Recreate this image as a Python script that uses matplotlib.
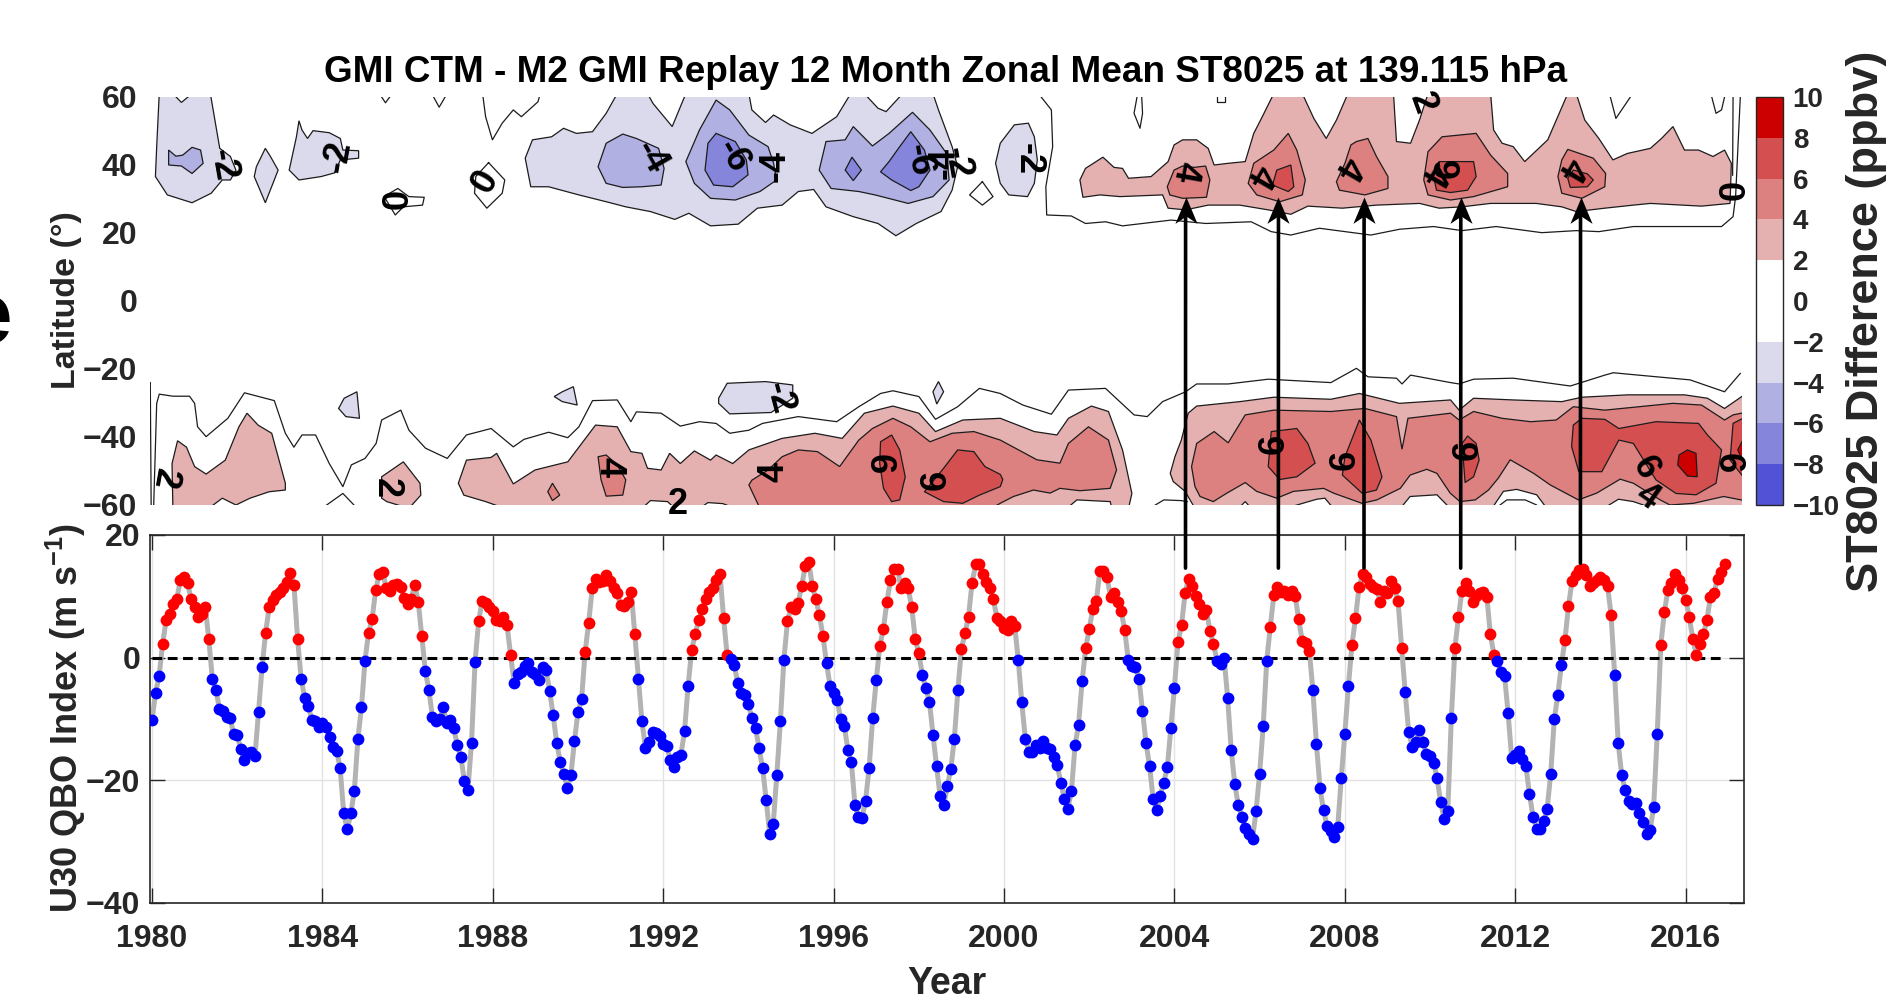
import numpy as np
import matplotlib
matplotlib.use('Agg')
import matplotlib.pyplot as plt
from matplotlib.colors import ListedColormap, BoundaryNorm
from matplotlib.colorbar import ColorbarBase
from matplotlib.patches import ConnectionPatch
from matplotlib.path import Path

plt.rcParams['font.family'] = ['Liberation Sans']
plt.rcParams['font.weight'] = 'bold'
plt.rcParams['mathtext.fontset'] = 'custom'
plt.rcParams['mathtext.bf'] = 'Liberation Sans:bold'
plt.rcParams['mathtext.rm'] = 'Liberation Sans:bold'
plt.rcParams['mathtext.default'] = 'bf'

# monthly U30 QBO index, Jan 1980 - Dec 2016, one row per year
qbo_values = [
    -10.2, -5.7, -3.0, 2.3, 6.2, 7.2, 8.8, 9.6, 12.7, 13.2, 12.2, 9.6,
    8.2, 6.7, 7.2, 8.2, 3.0, -3.5, -5.3, -8.3, -8.7, -9.6, -9.8, -12.5,
    -12.6, -14.9, -16.7, -15.6, -15.3, -16.1, -8.9, -1.6, 4.1, 8.2, 9.4, 10.2,
    10.7, 11.3, 12.4, 13.8, 11.8, 3.1, -3.4, -6.5, -7.8, -10.1, -10.4, -11.3,
    -10.7, -11.3, -13.0, -14.6, -15.2, -18.0, -25.4, -28.0, -25.4, -21.7, -13.2, -8.1,
    -0.5, 4.1, 6.3, 11.0, 13.6, 13.9, 11.3, 10.9, 11.8, 12.0, 11.5, 9.8,
    8.7, 9.6, 11.9, 9.1, 3.5, -2.2, -5.3, -9.7, -10.3, -10.0, -8.0, -10.6,
    -10.1, -11.5, -14.3, -16.2, -20.1, -21.5, -13.9, -0.7, 5.9, 9.3, 8.9, 8.2,
    7.6, 6.1, 5.9, 6.7, 5.3, 0.5, -4.1, -2.7, -2.3, -1.3, -0.8, -2.3,
    -2.7, -3.6, -1.5, -2.0, -5.4, -9.4, -13.9, -17.0, -19.0, -21.3, -19.1, -13.6,
    -8.8, -6.8, 0.9, 5.7, 11.3, 12.9, 12.4, 12.5, 13.4, 12.5, 11.3, 10.5,
    8.6, 8.4, 9.1, 10.7, 3.8, -3.4, -10.4, -14.7, -13.7, -12.1, -12.3, -12.7,
    -14.0, -14.4, -16.7, -17.9, -16.2, -15.8, -12.0, -4.7, 1.2, 3.8, 6.2, 8.0,
    9.5, 10.7, 11.3, 12.6, 13.7, 6.5, 0.4, -0.2, -1.2, -4.1, -5.8, -6.1,
    -7.6, -9.9, -11.4, -14.8, -18.0, -23.2, -28.7, -27.1, -19.1, -10.4, -0.3, 5.9,
    8.2, 7.9, 8.9, 11.7, 14.9, 15.6, 11.7, 9.5, 6.9, 3.5, -0.9, -4.6,
    -5.7, -6.9, -10.0, -11.1, -15.0, -17.0, -24.0, -26.0, -26.1, -23.3, -18.0, -9.9,
    -3.7, 1.9, 4.6, 9.1, 12.6, 14.5, 14.5, 11.3, 12.2, 11.3, 8.2, 3.0,
    0.7, -2.8, -5.0, -7.2, -12.6, -17.7, -22.6, -24.1, -21.0, -18.2, -13.3, -5.3,
    1.4, 4.0, 6.7, 12.2, 15.2, 15.2, 13.6, 12.4, 11.3, 9.5, 6.5, 5.9,
    4.8, 4.5, 5.9, 5.2, -0.3, -7.3, -13.2, -15.3, -15.4, -14.2, -14.7, -13.6,
    -14.7, -14.9, -16.2, -17.5, -20.4, -23.0, -24.6, -21.7, -14.3, -10.9, -3.8, 1.5,
    4.7, 7.9, 9.3, 14.1, 14.1, 13.2, 9.9, 10.6, 9.0, 7.6, 4.5, -0.4,
    -1.4, -1.5, -3.4, -8.7, -13.9, -17.7, -23.0, -24.8, -22.5, -20.4, -17.9, -11.4,
    -4.9, 2.6, 5.3, 10.5, 12.9, 11.7, 10.1, 8.8, 7.1, 7.8, 4.4, 2.2,
    -0.5, -1.0, -0.1, -6.6, -15.1, -20.6, -24.1, -25.9, -27.8, -28.8, -29.5, -25.0,
    -18.9, -11.2, -0.5, 5.0, 10.2, 11.5, 10.7, 10.9, 10.2, 10.9, 10.1, 6.3,
    2.7, 2.4, 1.1, -5.3, -14.1, -21.2, -24.9, -27.5, -28.2, -29.3, -27.6, -19.6,
    -12.4, -4.7, 2.1, 6.4, 11.5, 13.6, 13.2, 12.0, 11.5, 11.2, 9.1, 10.9,
    10.6, 12.5, 11.3, 9.2, 1.6, -5.6, -12.2, -14.5, -13.7, -11.8, -13.8, -15.7,
    -16.0, -17.1, -19.7, -23.6, -26.3, -25.0, -9.9, 1.5, 6.6, 10.9, 12.2, 10.9,
    9.1, 10.0, 10.6, 10.7, 9.9, 3.8, 0.5, -0.5, -2.3, -3.0, -9.1, -16.4,
    -15.8, -15.2, -16.6, -17.7, -22.2, -25.9, -27.9, -28.0, -26.6, -24.6, -18.9, -10.0,
    -6.1, -1.2, 2.9, 8.4, 12.5, 13.4, 14.3, 14.5, 13.4, 11.7, 12.1, 12.6,
    13.2, 12.6, 11.7, 7.0, -2.8, -13.9, -19.2, -21.6, -23.4, -23.8, -23.7, -25.3,
    -26.8, -28.7, -28.1, -24.3, -12.4, 2.1, 7.4, 11.0, 12.1, 13.6, 12.6, 11.3,
    9.4, 6.7, 3.1, 0.5, 2.2, 3.8, 6.2, 9.9, 10.6, 12.9, 14.0, 15.2,
]

levels = [-10, -8, -6, -4, -2, 0, 2, 4, 6, 8, 10]
band_colors = ['#5252d6', '#8585dc', '#b0b0e2', '#dadaec', '#ffffff',
               '#ffffff', '#e5b0b0', '#dd8080', '#d45050', '#cc0000']

# contours as (year, latitude); 61/-61 = runs off the panel
n_neg2_1980 = [(1980.17, 61), (1980.11, 45.4), (1980.08, 36.6), (1980.36, 31.2), (1980.94, 28.9), (1981.39, 31.7),
               (1981.65, 35.6), (1981.84, 35.6), (1981.97, 38.5), (1981.84, 42.5), (1981.59, 44.9), (1981.37, 61)]
n_neg4_1980 = [(1980.39, 44.4), (1980.39, 40), (1980.69, 39.7), (1980.94, 37.5), (1981.2, 40.5), (1981.14, 44.4),
               (1980.94, 45.2), (1980.72, 42.9), (1980.56, 42.6)]
n_notch_1980 = [(1980.49, 61), (1980.69, 58.4), (1980.94, 61)]
n_neg2_1982 = [(1982.66, 44.9), (1982.45, 39.5), (1982.4, 36.6), (1982.66, 28.9), (1982.87, 35.6), (1982.96, 38.5), (1982.78, 42.5)]
n_neg2_1984 = [(1983.45, 53), (1983.52, 50.3), (1983.65, 47.8), (1983.78, 50.1), (1984.16, 49.5), (1984.42, 47.8),
               (1984.48, 44.4), (1984.85, 44.2), (1984.85, 42), (1984.42, 41.5), (1984.29, 37.7), (1983.97, 36.6),
               (1983.45, 35.6), (1983.22, 38.5), (1983.39, 48.3)]
n_neg2_main = [(1990.92, 61), (1990.66, 55.2), (1990.34, 49.8), (1989.96, 49.3), (1989.66, 50.8), (1989.38, 48.3),
               (1988.93, 47.4), (1988.76, 42), (1988.89, 33.6), (1989.31, 33.6), (1990.02, 31.2), (1990.66, 29.2),
               (1991.12, 27.7), (1991.7, 26.3), (1992.27, 24), (1992.6, 25.8), (1993.11, 22.1), (1993.76, 22.6),
               (1994.21, 27.3), (1994.79, 28.2), (1995.17, 32.2), (1995.53, 32.8), (1995.82, 27.7), (1996.46, 24.8),
               (1997.04, 22.8), (1997.46, 19.2), (1997.94, 22.8), (1998.52, 26.3), (1998.78, 32.6), (1998.91, 39.5),
               (1998.78, 45.4), (1998.46, 56.2), (1998.33, 61), (1997.62, 61), (1997.23, 55.7), (1997.04, 56.7),
               (1996.72, 61), (1996.4, 61), (1996.07, 54.2), (1995.49, 49.3), (1994.98, 51.8), (1994.59, 54.7),
               (1994.4, 52.5), (1994.08, 56.2), (1994.01, 61), (1992.53, 61), (1992.21, 51.3), (1991.76, 58.1), (1991.63, 61)]
n_neg4_a = [(1991.05, 49.1), (1991.37, 47.8), (1991.89, 44.9), (1992.02, 39), (1991.95, 34.1), (1991.5, 33.6),
            (1991.05, 33.4), (1990.66, 34.6), (1990.47, 39.5), (1990.66, 46.4)]
n_neg4_b = [(1993.24, 59.1), (1993.56, 56.2), (1994.01, 48.8), (1994.46, 45.4), (1994.59, 40.5), (1994.66, 35.6),
            (1994.27, 32.2), (1993.69, 29.7), (1993.11, 30.2), (1992.73, 34.6), (1992.53, 41), (1992.85, 50.3)]
n_neg4_c = [(1996.46, 51.3), (1996.91, 45.6), (1997.3, 49.3), (1997.85, 55.5), (1998.26, 50.3), (1998.65, 43.4),
            (1998.71, 35.6), (1998.33, 30.7), (1997.75, 28.7), (1996.97, 31.2), (1996.59, 32.2), (1995.94, 33.1),
            (1995.66, 38.5), (1995.82, 46.9), (1996.27, 47.4)]
n_neg6_b = [(1993.24, 49.3), (1993.69, 46.9), (1993.95, 41.5), (1993.99, 37.1), (1993.63, 33.6), (1993.18, 34.1),
            (1992.98, 38.5), (1993.05, 46.4)]
n_neg6_c1 = [(1996.43, 42.3), (1996.65, 38.5), (1996.46, 35.4), (1996.27, 38.5)]
n_neg6_c2 = [(1997.81, 49.8), (1998.13, 44.4), (1998.26, 38.5), (1998.0, 33.6), (1997.81, 32.5), (1997.36, 35.6),
             (1997.1, 38), (1997.3, 41), (1997.55, 45.4)]
n_neg2_2000 = [(2000.57, 52.3), (2000.71, 48.3), (2000.78, 41.5), (2000.71, 34.6), (2000.55, 30.7), (2000.11, 31.2),
               (1999.91, 34.6), (1999.8, 40.5), (1999.91, 46.4), (2000.24, 51.8)]
n_pos2_main = [(2001.78, 35.6), (2001.91, 39), (2002.32, 42.3), (2002.58, 39.3), (2002.78, 39), (2002.92, 36.1),
               (2003.45, 36.6), (2003.85, 41), (2003.99, 45.9), (2004.19, 47.4), (2004.52, 47.4), (2004.79, 44.9),
               (2004.93, 40), (2005.26, 40.5), (2005.66, 41), (2005.86, 49.3), (2006.06, 54.2), (2006.33, 61),
               (2007.0, 61), (2007.27, 53.7), (2007.56, 47.8), (2007.8, 53.2), (2008.07, 61), (2009.14, 61),
               (2009.21, 46.9), (2009.54, 46.4), (2009.75, 53.2), (2009.95, 61), (2011.42, 61), (2011.49, 50.3),
               (2011.69, 46.4), (2011.95, 45.4), (2012.22, 41), (2012.76, 47.4), (2013.23, 61), (2013.43, 61),
               (2013.63, 53.2), (2013.96, 47.8), (2014.29, 41.5), (2014.63, 43.4), (2015.17, 44.9), (2015.43, 47.8),
               (2015.7, 51.3), (2015.97, 44.4), (2016.3, 44.4), (2016.64, 42.5), (2016.91, 44.4), (2017.07, 40.5),
               (2017.04, 28.7), (2016.37, 27.9), (2015.17, 28.7), (2014.77, 28.2), (2014.1, 27.3), (2013.43, 26.3),
               (2013.09, 27.7), (2012.49, 28.7), (2011.42, 28.7), (2010.75, 27.7), (2010.21, 27.3), (2009.75, 28.7),
               (2008.74, 28.2), (2007.94, 27.3), (2007.13, 27.9), (2006.73, 25.5), (2006.2, 26.8), (2005.53, 28.2),
               (2004.79, 28.2), (2004.26, 26.8), (2003.85, 27.3), (2003.72, 31.2), (2002.72, 30.7), (2002.25, 31.2),
               (2001.85, 30.5)]
n_pos4_a = [(2003.99, 38.5), (2004.19, 39.7), (2004.46, 39.3), (2004.73, 39.7), (2004.83, 35.6), (2004.75, 30.5),
            (2004.19, 30.2), (2003.89, 31.2), (2003.83, 33.6)]
n_pos4_b = [(2006.67, 49.3), (2006.87, 44.4), (2007.07, 35.6), (2007.0, 31.2), (2006.47, 29.2), (2005.93, 31.2),
            (2005.73, 34.6), (2005.86, 40.5), (2006.33, 44.4)]
n_pos6_b = [(2006.73, 40), (2006.8, 33.6), (2006.67, 32.2), (2006.3, 34.1), (2006.4, 38.5)]
n_pos4_c = [(2008.27, 46.9), (2008.54, 47.8), (2008.74, 42.5), (2009.01, 36.6), (2009.01, 33.1), (2008.47, 31.2),
            (2007.87, 32.6), (2007.8, 35.1), (2008.0, 40.5), (2008.14, 45.9)]
n_pos4_d = [(2010.28, 48.3), (2011.08, 49.3), (2011.42, 42.9), (2011.82, 37.5), (2011.82, 33.6), (2011.02, 30.7),
            (2010.48, 29.7), (2009.95, 31.2), (2009.85, 35.6), (2009.95, 43.9)]
n_pos6_d = [(2010.21, 41), (2011.02, 41), (2011.08, 36.6), (2010.88, 32.6), (2010.48, 31.9), (2010.15, 32.6), (2010.08, 36.6)]
n_pos4_e = [(2013.23, 44.6), (2013.83, 42), (2014.12, 37.5), (2014.1, 33.6), (2013.56, 30.2), (2013.09, 31.7),
            (2013.0, 36.6), (2013.09, 41.5)]
n_pos6_e = [(2013.36, 38.5), (2013.69, 37.4), (2013.83, 35.6), (2013.69, 33.6), (2013.29, 33.4), (2013.23, 36.1)]

s_neg2_1984 = [(1984.81, -26.7), (1984.87, -34.5), (1984.55, -34), (1984.38, -31.6), (1984.51, -28.6)]
s_neg2_1989 = [(1989.89, -25.2), (1989.98, -30.6), (1989.63, -29.6), (1989.44, -28.1), (1989.63, -26.7)]
s_neg2_1994 = [(1993.3, -28.6), (1993.5, -24.2), (1994.4, -23.7), (1995.04, -24.7), (1995.04, -28.6), (1994.53, -32.8),
               (1993.56, -33.2), (1993.3, -30.1)]
s_neg2_1998 = [(1998.46, -23.7), (1998.58, -26.7), (1998.42, -30.3), (1998.33, -26.7)]
s_pos2_1980 = [(1980.49, -61), (1980.47, -47.8), (1980.6, -41.1), (1980.81, -43), (1981.0, -48.7), (1981.27, -50.9),
               (1981.72, -46.8), (1982.04, -37), (1982.23, -33), (1982.49, -36.5), (1982.81, -38.9), (1983.13, -53.6),
               (1983.13, -55.6), (1982.75, -56.1), (1982.3, -58), (1981.97, -60), (1981.65, -58), (1981.33, -61)]
s_pos2_1985 = [(1985.9, -47.3), (1986.29, -53.6), (1986.31, -57.1), (1986.03, -61), (1985.51, -59), (1985.39, -58), (1985.39, -51.7)]
s_pos2_main1 = [(1988.28, -61), (1987.83, -59), (1987.32, -57.1), (1987.19, -53.6), (1987.38, -46.8), (1987.96, -46),
                (1988.09, -44.8), (1988.48, -53.8), (1988.99, -49.7), (1989.76, -47.3), (1990.41, -36.5), (1990.92, -37),
                (1991.24, -44.3), (1991.5, -44.8), (1991.63, -49.2), (1991.95, -49.7), (1992.15, -44.8), (1992.4, -47.8),
                (1992.73, -44.1), (1993.11, -46.8), (1993.24, -45.3), (1993.63, -47.8), (1994.01, -43.8), (1994.79, -40.4),
                (1995.56, -38.9), (1996.2, -40.4), (1996.72, -33), (1997.39, -30.9), (1998.0, -33), (1998.39, -38.4),
                (1999.03, -35), (1999.91, -34.5), (2000.71, -38.4), (2001.24, -39.4), (2001.51, -34.5), (2002.05, -30.9),
                (2002.45, -32.5), (2002.78, -43.8), (2003.0, -56.6), (2002.92, -61)]
s_pos2_main2 = [(2004.48, -61), (2004.25, -56), (2003.97, -53.1), (2003.9, -50.7), (2004.01, -45.8), (2004.16, -40.9),
                (2004.32, -33), (2004.52, -30.9), (2005.53, -29.6), (2006.33, -28.3), (2007.67, -28.9), (2008.34, -27.2),
                (2009.28, -30.1), (2010.48, -29.1), (2010.68, -32.1), (2011.02, -28.6), (2011.95, -29.1), (2013.09, -29.6),
                (2013.56, -28.3), (2014.63, -27.6), (2015.97, -27.6), (2016.51, -28.6), (2016.91, -31.6), (2017.5, -26.5),
                (2017.5, -61)]
s_pos4_1990 = [(1990.66, -45.3), (1990.92, -48.2), (1991.12, -52.6), (1991.05, -57.1), (1990.66, -57.4), (1990.54, -52.6), (1990.47, -45.8)]
s_pos4_1989 = [(1989.4, -53.6), (1989.57, -57.1), (1989.4, -58.7), (1989.29, -56.1)]
s_pos4_main1 = [(1994.27, -61), (1994.01, -54.1), (1994.08, -52.7), (1994.46, -49.7), (1994.79, -45.8), (1995.17, -43.8),
                (1995.62, -44.3), (1996.14, -48.7), (1996.59, -40.9), (1996.91, -37.5), (1997.39, -34.5), (1997.81, -37),
                (1998.26, -41.4), (1998.78, -38.9), (1999.29, -38.4), (1999.91, -40.9), (2000.77, -46.7), (2001.31, -47.7),
                (2001.51, -41.9), (2001.98, -37), (2002.45, -40.9), (2002.64, -49.7), (2002.49, -55.1), (2001.78, -55.8),
                (2001.31, -55.1), (2001.08, -56.5), (2000.69, -55.6), (2000.22, -57.5), (1999.91, -59.5), (1999.7, -61)]
s_pos4_main2 = [(2004.4, -48.7), (2004.52, -41.9), (2004.93, -38.4), (2005.26, -41.7), (2005.66, -33.5), (2006.33, -32.1),
                (2007.67, -32.5), (2008.47, -31.6), (2009.21, -34), (2009.34, -43.6), (2009.48, -34.5), (2010.48, -33),
                (2010.68, -35), (2011.02, -32.5), (2011.69, -34.5), (2012.36, -35.5), (2012.96, -35), (2013.36, -31.1),
                (2014.1, -32.1), (2015.7, -30.1), (2016.37, -30.6), (2016.91, -35), (2017.11, -33.5), (2017.5, -32.5),
                (2017.5, -59), (2016.89, -57.5), (2016.18, -59.5), (2015.63, -60), (2015.4, -58.5), (2014.77, -53.6),
                (2014.46, -52.4), (2013.91, -56.5), (2013.48, -58.5), (2012.82, -54.1), (2012.43, -50.7), (2011.88, -46.7),
                (2011.6, -52.1), (2011.37, -55.6), (2011.06, -58.5), (2010.7, -59), (2010.47, -56.5), (2010.16, -50.7),
                (2009.92, -49.5), (2009.53, -51.2), (2009.3, -55.1), (2008.75, -58.5), (2008.4, -59.5), (2007.73, -56.5),
                (2007.5, -55.1), (2006.79, -56), (2006.4, -58), (2005.93, -56), (2005.66, -53.4), (2005.23, -56.5),
                (2004.91, -59), (2004.6, -57.5), (2004.48, -54.6)]
s_pos6_a = [(1997.36, -39.4), (1997.55, -43.8), (1997.68, -51.7), (1997.55, -58.5), (1997.36, -59), (1997.17, -55.1),
            (1997.08, -47.8), (1997.1, -41.4)]
s_pos6_b = [(1998.91, -43.8), (1999.29, -44.3), (1999.55, -48.7), (1999.91, -51), (1999.97, -52.5), (1999.91, -54.6),
            (1999.42, -57.1), (1999.03, -59.5), (1998.58, -59), (1998.13, -56.1), (1998.58, -49.2)]
s_pos6_c = [(2006.27, -38.4), (2006.87, -37.5), (2007.13, -41.9), (2007.3, -47.7), (2006.87, -51.7), (2006.47, -52.5), (2006.2, -48.7)]
s_pos6_d = [(2008.34, -35), (2008.61, -40.9), (2008.87, -51.7), (2008.74, -55.6), (2008.41, -56.6), (2007.94, -51.2), (2008.0, -45.8)]
s_pos6_e = [(2010.88, -39.7), (2011.08, -41.9), (2011.15, -46.8), (2011.02, -51.7), (2010.82, -53.4), (2010.78, -46.8), (2010.75, -41.9)]
s_pos6_f = [(2013.36, -36.5), (2013.56, -34.5), (2014.1, -34.8), (2014.43, -37.5), (2015.3, -35.5), (2016.3, -36), (2016.51, -39.4),
            (2016.84, -43.8), (2016.71, -53.6), (2016.24, -57), (2015.77, -56.6), (2015.3, -52.6), (2014.77, -41.9),
            (2014.43, -40.9), (2014.03, -50.2), (2013.49, -50.2), (2013.32, -42.8)]
s_pos6_g = [(2017.5, -33.5), (2017.11, -36), (2017.04, -46.8), (2017.5, -54.1)]
s_pos8_a = [(2015.84, -45.3), (2016.04, -43.8), (2016.24, -44.8), (2016.27, -51.7), (2016.04, -51.5), (2015.81, -48.2)]
s_pos8_b = [(2017.5, -37), (2017.22, -43.8), (2017.5, -51.7)]

# bottom edge gaps inside the pink bands
s_gap_1992 = [(1991.5, -61), (1991.7, -58.7), (1992.1, -59), (1992.27, -61)]
s_gap_1993 = [(1992.85, -61), (1993.05, -59.3), (1993.4, -59.6), (1993.69, -61)]
s_gap_2002 = [(2001.47, -61), (2001.71, -58.5), (2002.49, -59), (2002.53, -61)]
s_gap_2005 = [(2005.5, -61), (2005.66, -59), (2005.8, -61)]
s_gap_2007 = [(2006.6, -61), (2007.34, -58.3), (2007.53, -58), (2007.73, -61)]
s_gap_2009 = [(2009.3, -61), (2009.53, -57.5), (2010.16, -57), (2010.47, -61)]
s_gap_2011 = [(2011.45, -61), (2011.72, -56), (2012.03, -55.4), (2012.5, -57), (2012.74, -61)]
s_gap_2014 = [(2014.07, -61), (2014.42, -58.3), (2014.77, -59), (2015.24, -61)]

# zero contours and other lines with no fill of their own
line_n_1 = [(1985.39, 60), (1985.48, 58.3), (1985.58, 60)]
line_n_2 = [(1986.61, 60), (1986.74, 57), (1986.88, 60)]
line_n_3 = [(1987.77, 60), (1987.83, 54.2), (1987.99, 47.4), (1988.22, 52.3), (1988.48, 56.2), (1988.67, 54.2), (1989.06, 58.6), (1989.09, 60)]
line_n_4 = [(1985.45, 30.7), (1985.71, 25.3), (1985.9, 27.7), (1986.35, 28.2), (1986.39, 30.5), (1986.03, 30.7), (1985.77, 33.1), (1985.51, 31.2), (1985.45, 30.7)]
line_n_5 = [(1987.9, 40.7), (1988.28, 35.6), (1988.22, 31.7), (1987.86, 27.3), (1987.57, 31.7), (1987.6, 36.6), (1987.9, 40.7)]
line_n_6 = [(1999.49, 35.1), (1999.74, 30.7), (1999.49, 28.2), (1999.19, 31.2), (1999.49, 35.1)]
line_n_7 = [(2000.87, 60), (2001.11, 56.2), (2001.14, 45.4), (2000.98, 33.6), (2001.0, 25.3), (2001.58, 25), (2001.91, 22.8),
            (2002.38, 23.3), (2002.78, 22.1), (2003.92, 23.8), (2004.73, 22.8), (2005.8, 23.3), (2006.27, 20.4), (2006.73, 19.4),
            (2007.4, 21.4), (2008.61, 19.4), (2009.28, 21.1), (2010.08, 21.9), (2010.75, 20.7), (2011.55, 21.9), (2012.62, 20.1),
            (2013.43, 20.7), (2013.96, 20.4), (2014.77, 21.9), (2015.97, 21.9), (2016.84, 21.9), (2017.11, 24.8), (2017.17, 30.7),
            (2017.28, 60)]
line_n_8 = [(2003.12, 60), (2003.05, 55.2), (2003.19, 50.8), (2003.25, 55.2), (2003.23, 60)]
line_n_9 = [(2004.99, 60), (2004.99, 58.6), (2005.19, 58.6), (2005.19, 60)]
line_n_10 = [(2014.23, 60), (2014.36, 53.7), (2014.7, 60)]
line_n_11 = [(2016.61, 60), (2016.71, 55.2), (2016.84, 56.2), (2016.91, 60)]
line_n_12 = [(2017.11, 60), (2017.1, 37)]
line_s_1 = [(1979.96, -24), (1979.98, -60)]
line_s_2 = [(1980.04, -60), (1980.11, -30.1), (1980.17, -27.4), (1980.49, -28), (1980.88, -28), (1981.0, -30.1), (1981.07, -37),
            (1981.27, -39.9), (1981.78, -34.5), (1982.17, -27), (1982.87, -29.3), (1983.13, -38.9), (1983.33, -43), (1983.52, -39.4),
            (1983.84, -39.4), (1984.16, -47.8), (1984.48, -54.6), (1984.68, -48.2), (1985.0, -46.3), (1985.26, -41.9), (1985.39, -35),
            (1985.84, -32.1), (1986.03, -38), (1986.42, -43.3), (1986.93, -46.3), (1987.38, -39.4), (1987.96, -37.5), (1988.48, -42.9),
            (1988.73, -40.7), (1989.31, -38.6), (1989.76, -40.2), (1990.02, -37), (1990.34, -29.3), (1990.92, -29.1), (1991.24, -35.5),
            (1991.37, -32.6), (1991.95, -33), (1992.4, -36.8), (1992.85, -35.5), (1993.24, -36), (1993.56, -38.9), (1994.01, -38),
            (1994.33, -36), (1995.17, -34), (1996.07, -35.5), (1996.59, -31.1), (1997.1, -27.2), (1997.39, -26.4), (1998.0, -28.1),
            (1998.39, -34.8), (1998.91, -31.1), (1999.42, -25.7), (1999.91, -27.2), (2000.44, -30.6), (2001.11, -33.3), (2001.51, -26.2),
            (2002.38, -25.7), (2003.05, -33.5), (2003.36, -34), (2003.72, -29.6), (2004.26, -26.7), (2004.52, -24.4), (2005.26, -24.4),
            (2006.2, -23), (2007.67, -24), (2008.27, -19.8), (2008.54, -22.3), (2009.21, -22.7), (2009.34, -24.4), (2009.54, -21.8),
            (2010.48, -24), (2010.68, -24.4), (2011.02, -23), (2011.95, -22.7), (2013.29, -25), (2014.1, -21.8), (2014.3, -21.1),
            (2014.63, -21.5), (2016.1, -23.2), (2016.91, -26.7), (2017.28, -21.3)]
line_s_3 = [(1984.1, -60), (1984.48, -56.6), (1984.74, -60)]
line_s_4 = [(2003.55, -60), (2003.75, -58.5), (2004.15, -58.7), (2004.3, -59)]
line_s_5 = [(2011.64, -60), (2011.8, -58.5), (2012.23, -58.5), (2012.5, -60)]

# (fill value, outline), drawn in this order so inner bands sit on top
filled_contours = [
    (-3, n_neg2_1980), (-5, n_neg4_1980), (0, n_notch_1980), (-3, n_neg2_1982), (-3, n_neg2_1984),
    (-3, n_neg2_main), (-5, n_neg4_a), (-5, n_neg4_b), (-5, n_neg4_c), (-7, n_neg6_b), (-7, n_neg6_c1), (-7, n_neg6_c2),
    (-3, n_neg2_2000), (3, n_pos2_main), (5, n_pos4_a), (5, n_pos4_b), (7, n_pos6_b), (5, n_pos4_c), (5, n_pos4_d),
    (7, n_pos6_d), (5, n_pos4_e), (7, n_pos6_e),
    (-3, s_neg2_1984), (-3, s_neg2_1989), (-3, s_neg2_1994), (-3, s_neg2_1998),
    (3, s_pos2_1980), (3, s_pos2_1985), (3, s_pos2_main1), (3, s_pos2_main2),
    (0, s_gap_1992), (0, s_gap_1993), (0, s_gap_2002), (0, s_gap_2005), (0, s_gap_2007), (0, s_gap_2009), (0, s_gap_2011), (0, s_gap_2014),
    (5, s_pos4_1990), (5, s_pos4_1989), (5, s_pos4_main1), (5, s_pos4_main2),
    (7, s_pos6_a), (7, s_pos6_b), (7, s_pos6_c), (7, s_pos6_d), (7, s_pos6_e), (7, s_pos6_f), (7, s_pos6_g),
    (9, s_pos8_a), (9, s_pos8_b),
]
open_contours = [line_n_1, line_n_2, line_n_3, line_n_4, line_n_5, line_n_6, line_n_7, line_n_8, line_n_9, line_n_10,
                 line_n_11, line_n_12, line_s_1, line_s_2, line_s_3, line_s_4, line_s_5]

label_text = ['-2', '-2', '0', '0', '-4', '-6', '-4', '-6', '-4', '-2', '-2', '4', '4', '4', '4', '6', '4', '0', '2',
              '2', '2', '4', '-2', '2', '4', '6', '6', '6', '6', '6', '6', '4', '6']
label_year = [1981.65, 1984.36, 1985.77, 1987.83, 1991.7, 1993.63, 1994.63, 1998.0, 1998.6, 1998.9, 2000.57, 2004.26, 2006.0,
              2008.07, 2010.08, 2010.48, 2013.29, 2017.17, 2009.81, 1980.3, 1985.49, 1990.73, 1994.72, 1992.34, 1994.59,
              1997.04, 1998.4, 2006.33, 2008.0, 2010.88, 2015.03, 2015.1, 2016.97]
label_lat = [40, 42.6, 29.9, 35.1, 42.3, 42.5, 39.7, 41.5, 40.5, 40.5, 41.7, 38, 37, 39.3, 37.5, 39, 39, 32.6, 58.1,
             -52.2, -55.1, -48.7, -28.6, -60, -50.2, -48, -52.6, -41.9, -46.8, -43.8, -49.2, -57.5, -47.8]
label_rot = [-80, 80, 90, 60, -60, -60, 90, -80, 90, -80, -90, -100, -120, -120, -120, 90, -120, 90, -70,
             -100, -90, -90, -75, 0, 90, -90, 90, 90, 90, 90, -60, -35, -90]

arrow_years = [2004.26, 2006.44, 2008.45, 2010.72, 2013.53]
arrow_tails = [14.6, 14.6, 14.6, 14.6, 15.4]
arrow_tip_lat = 30.5

title_text = 'GMI CTM - M2 GMI Replay 12 Month Zonal Mean ST8025 at 139.115 hPa'

W, H = 1894, 994
DARK = '#262626'


def px_axes(x0, y0, x1, y1):
    # pixel box from the top left corner of the figure
    return fig.add_axes([x0 / W, 1 - y1 / H, (x1 - x0) / W, (y1 - y0) / H])


fig = plt.figure(figsize=(W / 100, H / 100), dpi=100)
ax_top = px_axes(150, 97, 1742, 505)
ax_qbo = px_axes(150, 535, 1744, 903)
ax_bar = px_axes(1756, 97, 1783, 505)

cmap = ListedColormap(band_colors)
norm = BoundaryNorm(levels, cmap.N)

for value, outline in filled_contours:
    xs, ys = zip(*outline)
    ax_top.fill(xs, ys, facecolor=cmap(norm(value)), edgecolor='#1c1c1c', linewidth=0.9)
for outline in open_contours:
    xs, ys = zip(*outline)
    ax_top.plot(xs, ys, color='#1c1c1c', linewidth=0.9)

for txt, yr, lat, rot in zip(label_text, label_year, label_lat, label_rot):
    ax_top.text(yr, lat, txt, rotation=rot, rotation_mode='anchor', ha='center', va='center',
                fontsize=26, color='black', clip_on=False, zorder=6)

ax_top.set_xlim(1979.953, 2017.32)
ax_top.set_ylim(-60, 60)
ax_top.set_xticks([])
ax_top.set_yticks(range(-60, 61, 20))
ax_top.tick_params(axis='y', length=0, labelsize=23, labelcolor=DARK, pad=9)
for side in ax_top.spines:
    ax_top.spines[side].set_visible(False)
ax_top.set_title(title_text, fontsize=26.6, fontweight='bold', color='black', pad=11)

# QBO panel
qbo = np.array(qbo_values)
time = 1980 + np.arange(len(qbo)) / 12
ax_qbo.plot(time, qbo, color='#b3b3b3', linewidth=3.6, zorder=2)
ax_qbo.plot([time[0], time[-1]], [0, 0], color='black', linewidth=2.2, linestyle=(0, (3.2, 1.8)), zorder=3)
ax_qbo.plot(time[qbo > 0], qbo[qbo > 0], 'o', color='#ff0000', markersize=8.5, markeredgewidth=0, zorder=4)
ax_qbo.plot(time[qbo <= 0], qbo[qbo <= 0], 'o', color='#0000ff', markersize=8.5, markeredgewidth=0, zorder=4)
ax_qbo.set_xlim(1979.953, 2017.37)
ax_qbo.set_ylim(-40, 20)
ax_qbo.set_xticks(range(1980, 2017, 4))
ax_qbo.set_yticks([-40, -20, 0, 20])
ax_qbo.grid(True, color='#e2e2e2', linewidth=1)
ax_qbo.set_axisbelow(True)
ax_qbo.tick_params(direction='in', length=11, width=1, top=True, right=True, labelsize=23, labelcolor=DARK, color=DARK, pad=15)
ax_qbo.tick_params(axis='y', pad=7)
for side in ax_qbo.spines:
    ax_qbo.spines[side].set_color(DARK)
    ax_qbo.spines[side].set_linewidth(1.2)

# colour bar
bar = ColorbarBase(ax_bar, cmap=cmap, norm=norm, ticks=levels, spacing='uniform')
bar.ax.tick_params(length=0, labelsize=20, labelcolor=DARK, pad=7)
bar.outline.set_edgecolor(DARK)
bar.outline.set_linewidth(1)

# arrows from the QBO index up to the contour panel
stealth = Path([(0, 0), (-0.42, -1), (0, -0.72), (0.42, -1), (0, 0)],
               [Path.MOVETO, Path.LINETO, Path.LINETO, Path.LINETO, Path.CLOSEPOLY])
for yr, tail in zip(arrow_years, arrow_tails):
    link = ConnectionPatch(xyA=(yr, tail), coordsA=ax_qbo.transData, xyB=(yr, arrow_tip_lat - 3), coordsB=ax_top.transData,
                           color='black', linewidth=2.6, zorder=7)
    fig.add_artist(link)
    ax_top.plot([yr], [arrow_tip_lat], marker=stealth, markersize=38, color='black', markeredgewidth=0,
                clip_on=False, zorder=8)

fig.text(66 / W, 1 - 300 / H, 'Latitude (\u00b0)', rotation=90, ha='center', va='center', fontsize=24.5, color=DARK)
fig.text(66 / W, 1 - 718 / H, 'U30 QBO Index (m s$^{-1}$)', rotation=90, ha='center', va='center', fontsize=26, color=DARK)
fig.text(1866 / W, 1 - 321 / H, 'ST8025 Difference (ppbv)', rotation=90, ha='center', va='center', fontsize=32.5, color=DARK)
fig.text(947 / W, 1 - 994 / H, 'Year', ha='center', va='baseline', fontsize=27, color=DARK)
# clipped letter from the neighbouring panel at the left edge
fig.text(12 / W, 1 - 343 / H, 'e', ha='right', va='baseline', fontsize=63, color='black')

fig.savefig('out.png', dpi=100)
